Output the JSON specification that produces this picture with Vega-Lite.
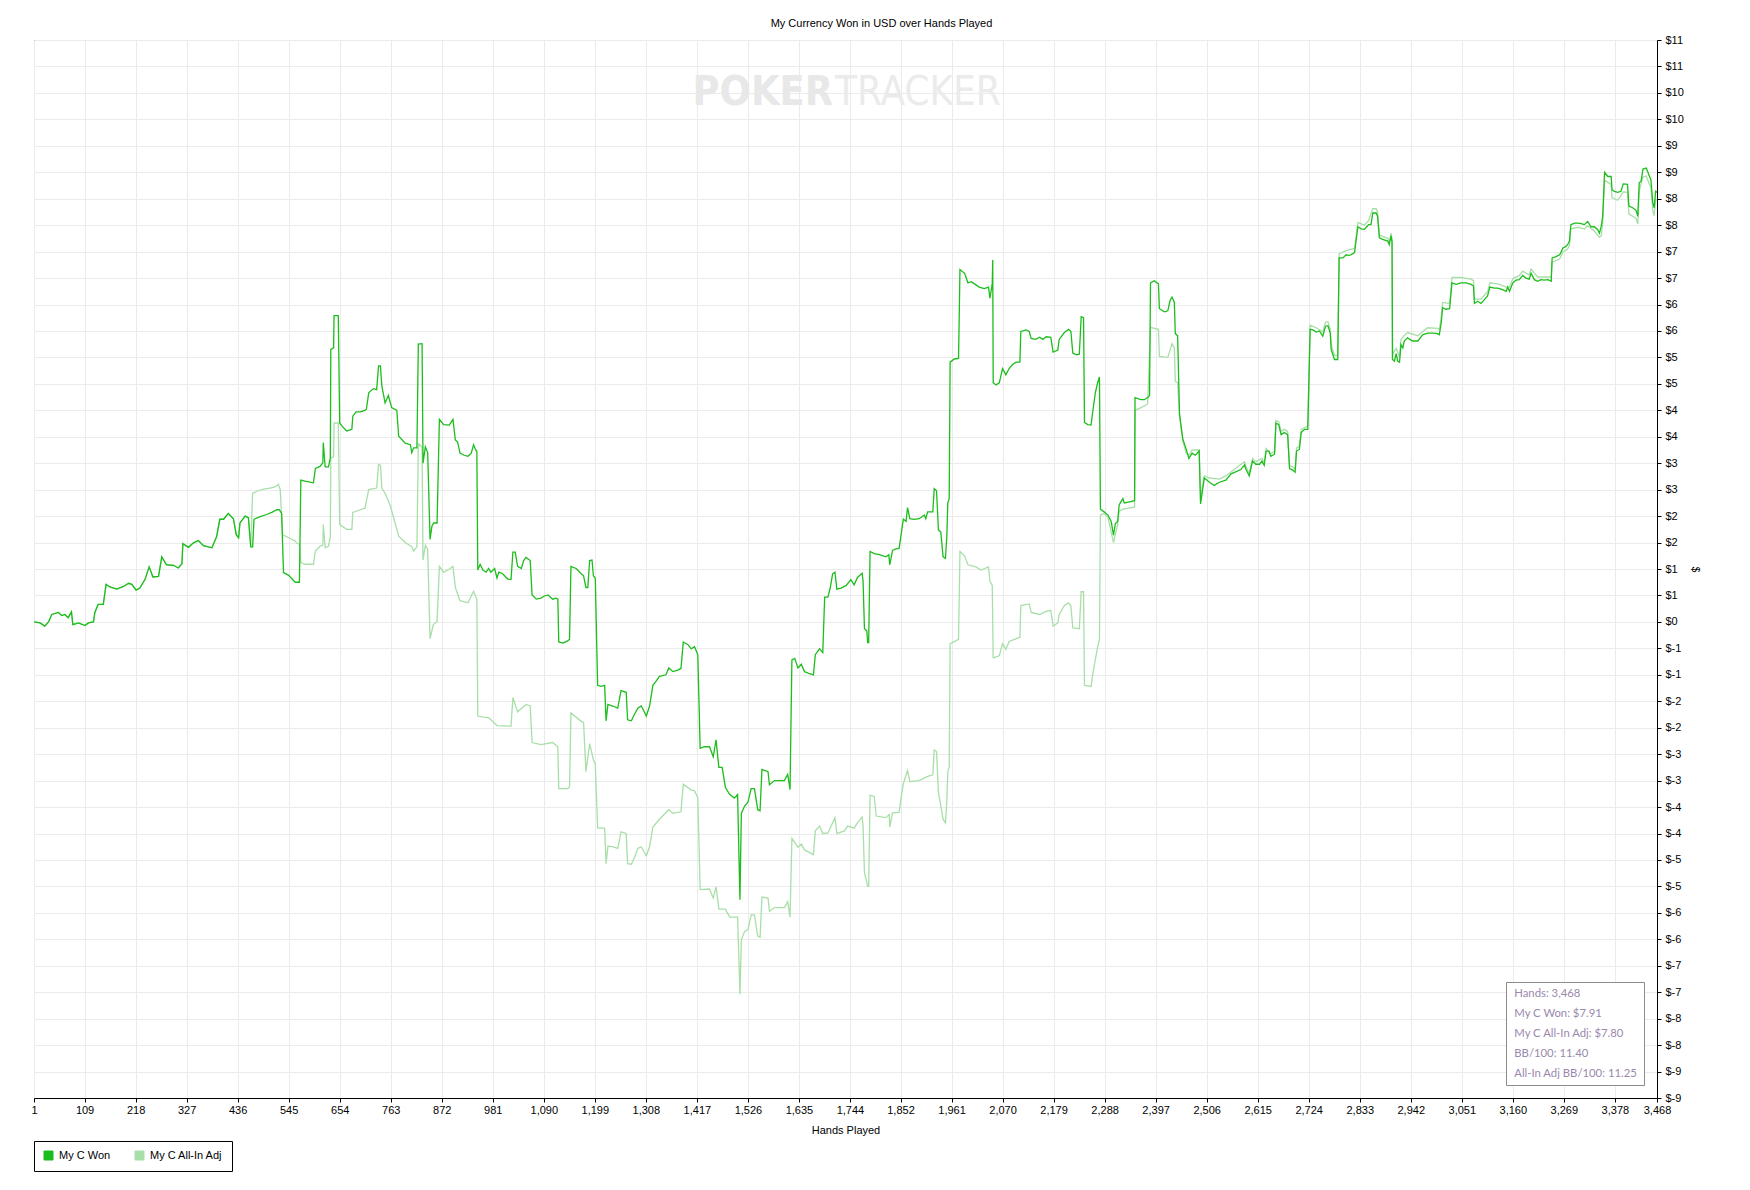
{
  "$schema": "https://vega.github.io/schema/vega-lite/v6.json",
  "width": 1623,
  "height": 1058,
  "autosize": {"type": "none"},
  "padding": {"left": 34, "top": 40, "right": 93, "bottom": 92},
  "background": "white",
  "title": {"text": "My Currency Won in USD over Hands Played", "fontSize": 11, "fontWeight": "normal", "font": "Liberation Sans", "color": "black", "anchor": "middle", "frame": "group", "offset": 5, "dx": 36},
  "datasets": {
    "won": [
      {"h":1,"v":0},{"h":14,"v":-0.02},{"h":24,"v":-0.08},{"h":32,"v":0},{"h":39,"v":0.14},{"h":53,"v":0.18},{"h":60,"v":0.12},{"h":67,"v":0.14},{"h":74,"v":0.08},{"h":81,"v":0.19},{"h":84,"v":-0.05},{"h":96,"v":-0.02},{"h":110,"v":-0.07},{"h":117,"v":-0.02},{"h":128,"v":0},{"h":131,"v":0.18},{"h":138,"v":0.33},{"h":149,"v":0.33},{"h":155,"v":0.71},{"h":163,"v":0.66},{"h":178,"v":0.62},{"h":192,"v":0.67},{"h":203,"v":0.73},{"h":210,"v":0.71},{"h":219,"v":0.6},{"h":227,"v":0.64},{"h":238,"v":0.8},{"h":247,"v":1.04},{"h":255,"v":0.85},{"h":267,"v":0.86},{"h":274,"v":1.23},{"h":284,"v":1.08},{"h":299,"v":1.07},{"h":309,"v":1.02},{"h":317,"v":1.1},{"h":319,"v":1.48},{"h":331,"v":1.41},{"h":341,"v":1.49},{"h":352,"v":1.54},{"h":363,"v":1.44},{"h":381,"v":1.4},{"h":391,"v":1.61},{"h":398,"v":1.94},{"h":406,"v":1.94},{"h":416,"v":2.05},{"h":427,"v":1.95},{"h":433,"v":1.65},{"h":438,"v":1.59},{"h":441,"v":1.87},{"h":452,"v":2.0},{"h":459,"v":1.97},{"h":464,"v":1.42},{"h":468,"v":1.42},{"h":471,"v":1.94},{"h":484,"v":1.99},{"h":498,"v":2.03},{"h":509,"v":2.07},{"h":520,"v":2.12},{"h":525,"v":2.12},{"h":530,"v":2.05},{"h":534,"v":0.93},{"h":545,"v":0.88},{"h":559,"v":0.75},{"h":568,"v":0.75},{"h":571,"v":2.68},{"h":580,"v":2.66},{"h":598,"v":2.63},{"h":602,"v":2.9},{"h":612,"v":2.94},{"h":618,"v":3.01},{"h":619,"v":3.39},{"h":623,"v":2.93},{"h":630,"v":2.93},{"h":634,"v":3.1},{"h":635,"v":5.15},{"h":641,"v":5.18},{"h":642,"v":5.79},{"h":651,"v":5.79},{"h":654,"v":3.76},{"h":659,"v":3.7},{"h":669,"v":3.61},{"h":680,"v":3.64},{"h":682,"v":3.89},{"h":689,"v":3.97},{"h":698,"v":3.97},{"h":708,"v":4.0},{"h":711,"v":4.02},{"h":716,"v":4.33},{"h":726,"v":4.41},{"h":733,"v":4.39},{"h":737,"v":4.84},{"h":741,"v":4.84},{"h":744,"v":4.46},{"h":751,"v":4.14},{"h":758,"v":4.28},{"h":765,"v":4.05},{"h":776,"v":4.0},{"h":780,"v":3.51},{"h":794,"v":3.38},{"h":805,"v":3.35},{"h":808,"v":3.2},{"h":812,"v":3.29},{"h":819,"v":3.29},{"h":822,"v":5.25},{"h":830,"v":5.26},{"h":832,"v":3.0},{"h":837,"v":3.31},{"h":842,"v":3.2},{"h":847,"v":1.56},{"h":851,"v":1.81},{"h":855,"v":1.87},{"h":862,"v":1.87},{"h":867,"v":3.83},{"h":876,"v":3.73},{"h":888,"v":3.72},{"h":896,"v":3.83},{"h":901,"v":3.44},{"h":906,"v":3.4},{"h":911,"v":3.19},{"h":920,"v":3.15},{"h":928,"v":3.13},{"h":935,"v":3.19},{"h":940,"v":3.35},{"h":944,"v":3.26},{"h":947,"v":3.22},{"h":949,"v":0.98},{"h":954,"v":1.09},{"h":960,"v":0.98},{"h":967,"v":0.94},{"h":972,"v":1.01},{"h":977,"v":0.94},{"h":985,"v":1.01},{"h":990,"v":0.83},{"h":994,"v":0.94},{"h":1002,"v":0.91},{"h":1013,"v":0.81},{"h":1020,"v":0.8},{"h":1024,"v":1.32},{"h":1029,"v":1.32},{"h":1034,"v":1.05},{"h":1042,"v":1.01},{"h":1047,"v":1.16},{"h":1052,"v":1.22},{"h":1061,"v":1.16},{"h":1065,"v":0.51},{"h":1074,"v":0.43},{"h":1084,"v":0.45},{"h":1091,"v":0.49},{"h":1099,"v":0.51},{"h":1109,"v":0.43},{"h":1116,"v":0.45},{"h":1120,"v":0.43},{"h":1122,"v":-0.38},{"h":1131,"v":-0.4},{"h":1141,"v":-0.36},{"h":1145,"v":-0.33},{"h":1148,"v":1.05},{"h":1159,"v":1.01},{"h":1170,"v":0.91},{"h":1175,"v":0.87},{"h":1180,"v":0.65},{"h":1184,"v":0.65},{"h":1188,"v":1.16},{"h":1193,"v":1.17},{"h":1196,"v":0.87},{"h":1200,"v":0.83},{"h":1205,"v":-1.2},{"h":1212,"v":-1.22},{"h":1220,"v":-1.2},{"h":1223,"v":-1.87},{"h":1227,"v":-1.56},{"h":1237,"v":-1.59},{"h":1248,"v":-1.63},{"h":1255,"v":-1.3},{"h":1266,"v":-1.33},{"h":1269,"v":-1.85},{"h":1277,"v":-1.87},{"h":1284,"v":-1.74},{"h":1291,"v":-1.63},{"h":1298,"v":-1.59},{"h":1303,"v":-1.67},{"h":1309,"v":-1.78},{"h":1316,"v":-1.59},{"h":1323,"v":-1.2},{"h":1330,"v":-1.12},{"h":1337,"v":-1.03},{"h":1351,"v":-1.0},{"h":1357,"v":-0.87},{"h":1366,"v":-0.94},{"h":1376,"v":-0.91},{"h":1383,"v":-0.88},{"h":1388,"v":-0.38},{"h":1398,"v":-0.43},{"h":1405,"v":-0.51},{"h":1412,"v":-0.47},{"h":1419,"v":-0.62},{"h":1424,"v":-2.39},{"h":1433,"v":-2.36},{"h":1444,"v":-2.36},{"h":1452,"v":-2.55},{"h":1458,"v":-2.23},{"h":1464,"v":-2.75},{"h":1471,"v":-2.75},{"h":1478,"v":-3.13},{"h":1487,"v":-3.26},{"h":1497,"v":-3.33},{"h":1504,"v":-3.26},{"h":1509,"v":-5.25},{"h":1512,"v":-3.62},{"h":1519,"v":-3.48},{"h":1526,"v":-3.41},{"h":1533,"v":-3.15},{"h":1540,"v":-3.15},{"h":1547,"v":-3.55},{"h":1552,"v":-3.57},{"h":1556,"v":-2.79},{"h":1569,"v":-2.83},{"h":1572,"v":-3.08},{"h":1583,"v":-3.0},{"h":1594,"v":-3.0},{"h":1604,"v":-3.0},{"h":1611,"v":-2.88},{"h":1616,"v":-3.17},{"h":1620,"v":-0.72},{"h":1626,"v":-0.69},{"h":1633,"v":-0.87},{"h":1640,"v":-0.8},{"h":1647,"v":-0.94},{"h":1658,"v":-0.98},{"h":1666,"v":-1.0},{"h":1670,"v":-0.62},{"h":1679,"v":-0.51},{"h":1686,"v":-0.58},{"h":1690,"v":0.47},{"h":1697,"v":0.47},{"h":1702,"v":0.65},{"h":1707,"v":0.91},{"h":1712,"v":0.94},{"h":1716,"v":0.62},{"h":1725,"v":0.64},{"h":1736,"v":0.69},{"h":1746,"v":0.8},{"h":1753,"v":0.7},{"h":1760,"v":0.84},{"h":1770,"v":0.92},{"h":1772,"v":0.77},{"h":1775,"v":-0.13},{"h":1780,"v":-0.17},{"h":1782,"v":-0.39},{"h":1784,"v":-0.39},{"h":1787,"v":1.33},{"h":1796,"v":1.29},{"h":1807,"v":1.27},{"h":1821,"v":1.23},{"h":1827,"v":1.27},{"h":1829,"v":1.08},{"h":1835,"v":1.35},{"h":1842,"v":1.38},{"h":1849,"v":1.39},{"h":1853,"v":1.63},{"h":1858,"v":1.94},{"h":1864,"v":1.9},{"h":1867,"v":2.16},{"h":1872,"v":1.95},{"h":1881,"v":1.94},{"h":1892,"v":1.95},{"h":1903,"v":2.02},{"h":1906,"v":1.95},{"h":1910,"v":2.08},{"h":1921,"v":2.08},{"h":1924,"v":2.52},{"h":1929,"v":2.48},{"h":1933,"v":1.74},{"h":1938,"v":1.7},{"h":1943,"v":1.23},{"h":1948,"v":1.2},{"h":1951,"v":1.63},{"h":1953,"v":2.25},{"h":1956,"v":2.33},{"h":1958,"v":4.91},{"h":1967,"v":4.97},{"h":1976,"v":4.98},{"h":1979,"v":6.66},{"h":1989,"v":6.59},{"h":1996,"v":6.41},{"h":2003,"v":6.43},{"h":2010,"v":6.39},{"h":2020,"v":6.33},{"h":2031,"v":6.3},{"h":2040,"v":6.33},{"h":2043,"v":6.12},{"h":2048,"v":6.39},{"h":2049,"v":6.84},{"h":2050,"v":4.52},{"h":2056,"v":4.48},{"h":2063,"v":4.52},{"h":2070,"v":4.79},{"h":2077,"v":4.67},{"h":2084,"v":4.79},{"h":2092,"v":4.87},{"h":2099,"v":4.91},{"h":2107,"v":4.91},{"h":2109,"v":5.49},{"h":2120,"v":5.52},{"h":2127,"v":5.49},{"h":2131,"v":5.36},{"h":2141,"v":5.34},{"h":2149,"v":5.38},{"h":2156,"v":5.34},{"h":2163,"v":5.39},{"h":2173,"v":5.38},{"h":2178,"v":5.1},{"h":2188,"v":5.14},{"h":2191,"v":5.34},{"h":2202,"v":5.47},{"h":2211,"v":5.53},{"h":2216,"v":5.49},{"h":2220,"v":5.08},{"h":2228,"v":5.05},{"h":2234,"v":5.06},{"h":2238,"v":5.77},{"h":2243,"v":5.75},{"h":2245,"v":3.77},{"h":2252,"v":3.73},{"h":2259,"v":3.72},{"h":2262,"v":3.93},{"h":2268,"v":4.32},{"h":2273,"v":4.52},{"h":2277,"v":4.63},{"h":2279,"v":2.13},{"h":2287,"v":2.08},{"h":2295,"v":2.02},{"h":2302,"v":1.9},{"h":2307,"v":1.64},{"h":2311,"v":1.86},{"h":2316,"v":1.9},{"h":2319,"v":2.21},{"h":2327,"v":2.33},{"h":2330,"v":2.25},{"h":2341,"v":2.27},{"h":2352,"v":2.29},{"h":2353,"v":4.24},{"h":2359,"v":4.22},{"h":2366,"v":4.2},{"h":2373,"v":4.2},{"h":2380,"v":4.24},{"h":2384,"v":4.28},{"h":2386,"v":6.41},{"h":2394,"v":6.45},{"h":2403,"v":6.39},{"h":2405,"v":5.92},{"h":2416,"v":5.86},{"h":2423,"v":5.88},{"h":2428,"v":6.08},{"h":2432,"v":6.14},{"h":2437,"v":6.04},{"h":2439,"v":5.45},{"h":2444,"v":5.41},{"h":2448,"v":3.93},{"h":2455,"v":3.46},{"h":2462,"v":3.27},{"h":2468,"v":3.09},{"h":2475,"v":3.19},{"h":2482,"v":3.15},{"h":2490,"v":3.23},{"h":2493,"v":2.23},{"h":2497,"v":2.48},{"h":2501,"v":2.72},{"h":2512,"v":2.64},{"h":2522,"v":2.58},{"h":2533,"v":2.64},{"h":2547,"v":2.68},{"h":2558,"v":2.8},{"h":2569,"v":2.84},{"h":2579,"v":2.88},{"h":2587,"v":2.97},{"h":2590,"v":2.88},{"h":2597,"v":2.76},{"h":2604,"v":3.04},{"h":2611,"v":2.98},{"h":2619,"v":2.98},{"h":2624,"v":3.04},{"h":2629,"v":2.96},{"h":2633,"v":3.23},{"h":2639,"v":3.23},{"h":2643,"v":3.13},{"h":2651,"v":3.17},{"h":2654,"v":3.76},{"h":2660,"v":3.73},{"h":2665,"v":3.54},{"h":2672,"v":3.58},{"h":2679,"v":3.54},{"h":2683,"v":2.9},{"h":2690,"v":2.87},{"h":2695,"v":2.83},{"h":2698,"v":3.23},{"h":2704,"v":3.26},{"h":2708,"v":3.58},{"h":2715,"v":3.64},{"h":2722,"v":3.64},{"h":2727,"v":5.53},{"h":2733,"v":5.52},{"h":2740,"v":5.48},{"h":2747,"v":5.5},{"h":2754,"v":5.4},{"h":2760,"v":5.59},{"h":2765,"v":5.6},{"h":2770,"v":5.46},{"h":2772,"v":5.15},{"h":2779,"v":4.96},{"h":2786,"v":4.96},{"h":2789,"v":6.88},{"h":2797,"v":6.88},{"h":2804,"v":6.94},{"h":2809,"v":6.93},{"h":2814,"v":6.94},{"h":2822,"v":6.98},{"h":2829,"v":7.47},{"h":2836,"v":7.43},{"h":2843,"v":7.42},{"h":2848,"v":7.47},{"h":2852,"v":7.51},{"h":2857,"v":7.51},{"h":2861,"v":7.73},{"h":2868,"v":7.73},{"h":2871,"v":7.67},{"h":2875,"v":7.26},{"h":2882,"v":7.23},{"h":2893,"v":7.2},{"h":2896,"v":7.13},{"h":2900,"v":7.3},{"h":2902,"v":7.18},{"h":2903,"v":4.96},{"h":2907,"v":4.93},{"h":2911,"v":5.07},{"h":2914,"v":4.93},{"h":2918,"v":4.91},{"h":2921,"v":5.24},{"h":2925,"v":5.18},{"h":2928,"v":5.31},{"h":2935,"v":5.37},{"h":2946,"v":5.31},{"h":2957,"v":5.31},{"h":2968,"v":5.43},{"h":2978,"v":5.46},{"h":2989,"v":5.46},{"h":2999,"v":5.45},{"h":3003,"v":5.43},{"h":3007,"v":5.65},{"h":3010,"v":5.94},{"h":3017,"v":5.91},{"h":3025,"v":5.92},{"h":3030,"v":6.41},{"h":3039,"v":6.38},{"h":3049,"v":6.41},{"h":3060,"v":6.41},{"h":3071,"v":6.38},{"h":3076,"v":6.35},{"h":3078,"v":6.02},{"h":3085,"v":6.06},{"h":3092,"v":6.02},{"h":3103,"v":6.13},{"h":3106,"v":6.16},{"h":3111,"v":6.33},{"h":3121,"v":6.31},{"h":3128,"v":6.31},{"h":3138,"v":6.28},{"h":3146,"v":6.25},{"h":3149,"v":6.33},{"h":3153,"v":6.25},{"h":3160,"v":6.41},{"h":3167,"v":6.46},{"h":3174,"v":6.47},{"h":3181,"v":6.55},{"h":3188,"v":6.5},{"h":3195,"v":6.48},{"h":3199,"v":6.59},{"h":3206,"v":6.47},{"h":3213,"v":6.44},{"h":3220,"v":6.47},{"h":3227,"v":6.46},{"h":3235,"v":6.47},{"h":3242,"v":6.44},{"h":3244,"v":6.88},{"h":3251,"v":6.9},{"h":3260,"v":6.94},{"h":3263,"v":6.99},{"h":3267,"v":7.07},{"h":3272,"v":7.09},{"h":3277,"v":7.13},{"h":3281,"v":7.2},{"h":3284,"v":7.51},{"h":3292,"v":7.54},{"h":3299,"v":7.54},{"h":3306,"v":7.53},{"h":3313,"v":7.51},{"h":3320,"v":7.57},{"h":3327,"v":7.47},{"h":3334,"v":7.47},{"h":3341,"v":7.42},{"h":3345,"v":7.35},{"h":3349,"v":7.48},{"h":3352,"v":7.67},{"h":3356,"v":8.5},{"h":3363,"v":8.42},{"h":3370,"v":8.42},{"h":3372,"v":8.17},{"h":3377,"v":8.14},{"h":3384,"v":8.12},{"h":3391,"v":8.14},{"h":3396,"v":8.28},{"h":3405,"v":8.27},{"h":3408,"v":7.86},{"h":3416,"v":7.83},{"h":3423,"v":7.78},{"h":3427,"v":7.67},{"h":3430,"v":8.3},{"h":3434,"v":8.33},{"h":3438,"v":8.56},{"h":3445,"v":8.58},{"h":3449,"v":8.49},{"h":3452,"v":8.42},{"h":3455,"v":8.36},{"h":3459,"v":7.92},{"h":3462,"v":7.83},{"h":3465,"v":8.14},{"h":3468,"v":8.12}
    ],
    "adj": [
      {"h":1,"v":0},{"h":14,"v":-0.02},{"h":24,"v":-0.08},{"h":32,"v":0},{"h":39,"v":0.14},{"h":53,"v":0.18},{"h":60,"v":0.12},{"h":67,"v":0.14},{"h":74,"v":0.08},{"h":81,"v":0.19},{"h":84,"v":-0.05},{"h":96,"v":-0.02},{"h":110,"v":-0.07},{"h":117,"v":-0.02},{"h":128,"v":0},{"h":131,"v":0.18},{"h":138,"v":0.33},{"h":149,"v":0.33},{"h":155,"v":0.71},{"h":163,"v":0.66},{"h":178,"v":0.62},{"h":192,"v":0.67},{"h":203,"v":0.73},{"h":210,"v":0.71},{"h":219,"v":0.6},{"h":227,"v":0.64},{"h":238,"v":0.8},{"h":247,"v":1.04},{"h":255,"v":0.85},{"h":267,"v":0.86},{"h":274,"v":1.23},{"h":284,"v":1.08},{"h":299,"v":1.07},{"h":309,"v":1.02},{"h":317,"v":1.1},{"h":319,"v":1.48},{"h":331,"v":1.41},{"h":341,"v":1.49},{"h":352,"v":1.54},{"h":363,"v":1.44},{"h":381,"v":1.4},{"h":391,"v":1.61},{"h":398,"v":1.94},{"h":406,"v":1.94},{"h":416,"v":2.05},{"h":427,"v":1.95},{"h":433,"v":1.65},{"h":438,"v":1.59},{"h":441,"v":1.87},{"h":452,"v":2.0},{"h":459,"v":1.97},{"h":464,"v":1.42},{"h":468,"v":2.43},{"h":477,"v":2.47},{"h":491,"v":2.51},{"h":505,"v":2.53},{"h":516,"v":2.55},{"h":523,"v":2.6},{"h":527,"v":2.5},{"h":532,"v":1.65},{"h":545,"v":1.59},{"h":559,"v":1.53},{"h":562,"v":1.49},{"h":568,"v":1.47},{"h":571,"v":1.12},{"h":580,"v":1.09},{"h":598,"v":1.09},{"h":602,"v":1.34},{"h":612,"v":1.43},{"h":618,"v":1.45},{"h":619,"v":1.84},{"h":623,"v":1.4},{"h":630,"v":1.43},{"h":634,"v":1.6},{"h":635,"v":3.1},{"h":641,"v":3.12},{"h":642,"v":3.76},{"h":651,"v":3.76},{"h":654,"v":1.84},{"h":669,"v":1.75},{"h":680,"v":1.75},{"h":682,"v":2.07},{"h":698,"v":2.12},{"h":708,"v":2.15},{"h":716,"v":2.5},{"h":733,"v":2.53},{"h":737,"v":2.98},{"h":741,"v":2.96},{"h":744,"v":2.53},{"h":751,"v":2.43},{"h":762,"v":2.2},{"h":780,"v":1.62},{"h":794,"v":1.5},{"h":808,"v":1.42},{"h":812,"v":1.34},{"h":819,"v":1.42},{"h":822,"v":3.37},{"h":830,"v":3.3},{"h":832,"v":1.17},{"h":837,"v":1.45},{"h":842,"v":1.37},{"h":847,"v":-0.32},{"h":854,"v":-0.05},{"h":862,"v":0.01},{"h":867,"v":1.05},{"h":876,"v":0.94},{"h":887,"v":0.99},{"h":896,"v":1.05},{"h":901,"v":0.65},{"h":911,"v":0.4},{"h":928,"v":0.36},{"h":940,"v":0.58},{"h":947,"v":0.43},{"h":949,"v":-1.78},{"h":960,"v":-1.8},{"h":972,"v":-1.81},{"h":990,"v":-1.96},{"h":1020,"v":-1.97},{"h":1024,"v":-1.43},{"h":1034,"v":-1.7},{"h":1052,"v":-1.56},{"h":1061,"v":-1.59},{"h":1065,"v":-2.28},{"h":1084,"v":-2.32},{"h":1109,"v":-2.28},{"h":1120,"v":-2.36},{"h":1122,"v":-3.15},{"h":1141,"v":-3.15},{"h":1145,"v":-3.12},{"h":1148,"v":-1.72},{"h":1170,"v":-1.88},{"h":1175,"v":-1.9},{"h":1180,"v":-2.83},{"h":1188,"v":-2.3},{"h":1196,"v":-2.61},{"h":1200,"v":-2.68},{"h":1205,"v":-3.9},{"h":1220,"v":-3.9},{"h":1223,"v":-4.57},{"h":1227,"v":-4.24},{"h":1237,"v":-4.25},{"h":1248,"v":-4.28},{"h":1255,"v":-3.97},{"h":1266,"v":-4.0},{"h":1269,"v":-4.57},{"h":1277,"v":-4.58},{"h":1284,"v":-4.45},{"h":1291,"v":-4.28},{"h":1298,"v":-4.25},{"h":1309,"v":-4.42},{"h":1316,"v":-4.25},{"h":1323,"v":-3.88},{"h":1337,"v":-3.73},{"h":1357,"v":-3.55},{"h":1366,"v":-3.62},{"h":1383,"v":-3.59},{"h":1388,"v":-3.07},{"h":1405,"v":-3.18},{"h":1412,"v":-3.19},{"h":1419,"v":-3.33},{"h":1424,"v":-5.06},{"h":1444,"v":-5.05},{"h":1452,"v":-5.22},{"h":1458,"v":-5.01},{"h":1464,"v":-5.43},{"h":1478,"v":-5.43},{"h":1487,"v":-5.58},{"h":1504,"v":-5.58},{"h":1509,"v":-7.04},{"h":1512,"v":-6.01},{"h":1519,"v":-5.85},{"h":1526,"v":-5.82},{"h":1533,"v":-5.54},{"h":1540,"v":-5.54},{"h":1547,"v":-5.94},{"h":1552,"v":-5.96},{"h":1556,"v":-5.2},{"h":1569,"v":-5.22},{"h":1572,"v":-5.47},{"h":1583,"v":-5.4},{"h":1604,"v":-5.4},{"h":1611,"v":-5.29},{"h":1616,"v":-5.58},{"h":1620,"v":-4.09},{"h":1633,"v":-4.26},{"h":1640,"v":-4.2},{"h":1647,"v":-4.31},{"h":1666,"v":-4.4},{"h":1670,"v":-3.95},{"h":1679,"v":-3.86},{"h":1686,"v":-4.0},{"h":1697,"v":-3.99},{"h":1712,"v":-3.7},{"h":1716,"v":-4.0},{"h":1732,"v":-3.95},{"h":1739,"v":-3.86},{"h":1753,"v":-3.9},{"h":1760,"v":-3.8},{"h":1770,"v":-3.69},{"h":1772,"v":-3.86},{"h":1775,"v":-4.74},{"h":1782,"v":-5.0},{"h":1784,"v":-5.0},{"h":1787,"v":-3.28},{"h":1796,"v":-3.3},{"h":1800,"v":-3.67},{"h":1821,"v":-3.7},{"h":1828,"v":-3.64},{"h":1829,"v":-3.88},{"h":1835,"v":-3.61},{"h":1849,"v":-3.6},{"h":1853,"v":-3.34},{"h":1858,"v":-3.06},{"h":1867,"v":-2.81},{"h":1872,"v":-3.02},{"h":1892,"v":-3.0},{"h":1910,"v":-2.92},{"h":1921,"v":-2.89},{"h":1924,"v":-2.42},{"h":1929,"v":-2.45},{"h":1933,"v":-3.22},{"h":1943,"v":-3.73},{"h":1948,"v":-3.8},{"h":1951,"v":-3.38},{"h":1953,"v":-2.83},{"h":1956,"v":-2.75},{"h":1958,"v":-0.41},{"h":1976,"v":-0.33},{"h":1979,"v":1.33},{"h":1989,"v":1.25},{"h":1996,"v":1.08},{"h":2013,"v":1.04},{"h":2024,"v":0.98},{"h":2040,"v":1.04},{"h":2043,"v":0.77},{"h":2048,"v":0.69},{"h":2050,"v":-0.68},{"h":2063,"v":-0.64},{"h":2070,"v":-0.41},{"h":2077,"v":-0.52},{"h":2084,"v":-0.37},{"h":2107,"v":-0.29},{"h":2109,"v":0.31},{"h":2127,"v":0.34},{"h":2131,"v":0.18},{"h":2149,"v":0.14},{"h":2163,"v":0.2},{"h":2173,"v":0.22},{"h":2178,"v":-0.08},{"h":2188,"v":-0.02},{"h":2191,"v":0.14},{"h":2202,"v":0.31},{"h":2211,"v":0.36},{"h":2216,"v":0.3},{"h":2220,"v":-0.11},{"h":2234,"v":-0.13},{"h":2238,"v":0.57},{"h":2243,"v":0.57},{"h":2245,"v":-1.2},{"h":2259,"v":-1.22},{"h":2262,"v":-1.03},{"h":2268,"v":-0.72},{"h":2273,"v":-0.48},{"h":2277,"v":-0.33},{"h":2279,"v":2.02},{"h":2287,"v":2.05},{"h":2295,"v":1.98},{"h":2307,"v":1.5},{"h":2316,"v":1.85},{"h":2319,"v":2.09},{"h":2327,"v":2.13},{"h":2352,"v":2.17},{"h":2353,"v":4.0},{"h":2366,"v":4.05},{"h":2380,"v":4.12},{"h":2386,"v":5.57},{"h":2403,"v":5.53},{"h":2405,"v":5.02},{"h":2423,"v":5.0},{"h":2432,"v":5.26},{"h":2437,"v":5.18},{"h":2439,"v":4.55},{"h":2444,"v":4.52},{"h":2448,"v":3.9},{"h":2455,"v":3.42},{"h":2462,"v":3.2},{"h":2468,"v":3.15},{"h":2475,"v":3.25},{"h":2490,"v":3.25},{"h":2493,"v":2.3},{"h":2497,"v":2.57},{"h":2501,"v":2.76},{"h":2512,"v":2.72},{"h":2533,"v":2.7},{"h":2547,"v":2.76},{"h":2569,"v":2.91},{"h":2587,"v":3.03},{"h":2590,"v":2.93},{"h":2597,"v":2.81},{"h":2604,"v":3.09},{"h":2611,"v":3.03},{"h":2624,"v":3.09},{"h":2629,"v":3.01},{"h":2633,"v":3.28},{"h":2643,"v":3.18},{"h":2651,"v":3.22},{"h":2654,"v":3.81},{"h":2660,"v":3.78},{"h":2665,"v":3.6},{"h":2672,"v":3.64},{"h":2679,"v":3.6},{"h":2683,"v":2.96},{"h":2690,"v":2.93},{"h":2695,"v":2.89},{"h":2698,"v":3.29},{"h":2704,"v":3.32},{"h":2708,"v":3.64},{"h":2722,"v":3.7},{"h":2727,"v":5.61},{"h":2740,"v":5.56},{"h":2754,"v":5.48},{"h":2760,"v":5.67},{"h":2765,"v":5.68},{"h":2770,"v":5.54},{"h":2772,"v":5.23},{"h":2779,"v":5.04},{"h":2786,"v":5.04},{"h":2789,"v":6.96},{"h":2804,"v":7.02},{"h":2822,"v":7.06},{"h":2829,"v":7.55},{"h":2843,"v":7.5},{"h":2852,"v":7.59},{"h":2861,"v":7.81},{"h":2868,"v":7.81},{"h":2871,"v":7.75},{"h":2875,"v":7.31},{"h":2893,"v":7.25},{"h":2896,"v":7.18},{"h":2900,"v":7.35},{"h":2902,"v":7.23},{"h":2903,"v":5.06},{"h":2911,"v":5.17},{"h":2918,"v":5.01},{"h":2921,"v":5.34},{"h":2928,"v":5.41},{"h":2935,"v":5.47},{"h":2957,"v":5.41},{"h":2978,"v":5.56},{"h":2999,"v":5.55},{"h":3003,"v":5.53},{"h":3007,"v":5.75},{"h":3010,"v":6.04},{"h":3025,"v":6.02},{"h":3030,"v":6.51},{"h":3049,"v":6.51},{"h":3071,"v":6.48},{"h":3076,"v":6.45},{"h":3078,"v":6.1},{"h":3092,"v":6.1},{"h":3106,"v":6.24},{"h":3111,"v":6.41},{"h":3128,"v":6.39},{"h":3146,"v":6.33},{"h":3153,"v":6.33},{"h":3160,"v":6.49},{"h":3174,"v":6.55},{"h":3181,"v":6.63},{"h":3195,"v":6.56},{"h":3199,"v":6.67},{"h":3213,"v":6.52},{"h":3242,"v":6.52},{"h":3244,"v":6.8},{"h":3260,"v":6.86},{"h":3267,"v":6.99},{"h":3277,"v":7.05},{"h":3281,"v":7.12},{"h":3284,"v":7.43},{"h":3299,"v":7.46},{"h":3313,"v":7.43},{"h":3320,"v":7.49},{"h":3334,"v":7.39},{"h":3345,"v":7.27},{"h":3349,"v":7.3},{"h":3352,"v":7.55},{"h":3356,"v":8.35},{"h":3370,"v":8.27},{"h":3372,"v":8.02},{"h":3384,"v":7.97},{"h":3396,"v":8.13},{"h":3405,"v":8.12},{"h":3408,"v":7.71},{"h":3423,"v":7.63},{"h":3427,"v":7.52},{"h":3430,"v":8.15},{"h":3438,"v":8.41},{"h":3445,"v":8.43},{"h":3452,"v":8.27},{"h":3455,"v":8.21},{"h":3459,"v":7.77},{"h":3462,"v":7.68},{"h":3465,"v":7.99},{"h":3468,"v":7.97}
    ],
    "stats": [
      {"stat": "Hands: 3,468"},
      {"stat": "My C Won: $7.91"},
      {"stat": "My C All-In Adj: $7.80"},
      {"stat": "BB/100: 11.40"},
      {"stat": "All-In Adj BB/100: 11.25"}
    ]
  },
  "layer": [
    {
      "data": {"name": "adj"},
      "mark": {"type": "line", "strokeWidth": 1.3, "interpolate": "linear"},
      "encoding": {
        "x": {
          "field": "h", "type": "quantitative",
          "scale": {"domain": [1, 3468], "nice": false, "zero": false},
          "axis": {
            "title": "Hands Played",
            "values": [1,109,218,327,436,545,654,763,872,981,1090,1199,1308,1417,1526,1635,1744,1852,1961,2070,2179,2288,2397,2506,2615,2724,2833,2942,3051,3160,3269,3378,3468],
            "tickCount": 60,
            "format": ",d",
            "labelFlush": false,
            "labelOverlap": false,
            "tickSize": 4,
            "labelPadding": 2,
            "titlePadding": 9
          }
        },
        "y": {
          "field": "v", "type": "quantitative",
          "scale": {"domain": [-9, 11], "nice": false, "zero": false},
          "axis": {
            "orient": "right",
            "title": "$",
            "values": [-9,-8.5,-8,-7.5,-7,-6.5,-6,-5.5,-5,-4.5,-4,-3.5,-3,-2.5,-2,-1.5,-1,-0.5,0,0.5,1,1.5,2,2.5,3,3.5,4,4.5,5,5.5,6,6.5,7,7.5,8,8.5,9,9.5,10,10.5,11],
            "tickCount": 60,
            "labelExpr": "'$' + (datum.value < 0 ? '-' : '') + round(abs(datum.value))",
            "labelOverlap": false,
            "tickSize": 4,
            "labelPadding": 4,
            "titlePadding": 6,
            "titleFontSize": 10
          }
        },
        "color": {
          "datum": "My C All-In Adj",
          "type": "nominal",
          "scale": {"domain": ["My C Won", "My C All-In Adj"], "range": ["#1cbd1c", "#a8dfa8"]},
          "legend": {
            "title": null,
            "orient": "bottom",
            "direction": "horizontal",
            "offset": 6,
            "symbolType": "square",
            "symbolSize": 81,
            "symbolStrokeWidth": 1,
            "labelFontSize": 11,
            "labelFont": "Liberation Sans",
            "labelColor": "black",
            "labelOffset": 5,
            "columnPadding": 22,
            "padding": 9,
            "strokeColor": "black",
            "fillColor": "white",
            "encode": {
              "symbols": {
                "update": {
                  "fill": {"scale": "color", "field": "value"},
                  "stroke": {"value": "black"},
                  "strokeWidth": {"value": 1},
                  "opacity": {"value": 1}
                }
              }
            }
          }
        }
      }
    },
    {
      "data": {"name": "won"},
      "mark": {"type": "line", "strokeWidth": 1.3, "interpolate": "linear"},
      "encoding": {
        "x": {"field": "h", "type": "quantitative"},
        "y": {"field": "v", "type": "quantitative"},
        "color": {"datum": "My C Won", "type": "nominal"}
      }
    },
    {
      "mark": {"type": "rule", "color": "black", "strokeWidth": 1},
      "encoding": {"y": {"datum": 0}}
    },
    {
      "data": {"values": [{"t": "POKER"}]},
      "mark": {"type": "text", "font": "DejaVu Sans Condensed, Liberation Sans", "fontWeight": "bold", "fontSize": 41, "color": "#e8e8e8", "align": "right", "baseline": "alphabetic"},
      "encoding": {"x": {"datum": 1708}, "y": {"datum": 9.77}, "text": {"field": "t"}}
    },
    {
      "data": {"values": [{"t": "TRACKER"}]},
      "mark": {"type": "text", "font": "DejaVu Sans Condensed, Liberation Sans", "fontWeight": "normal", "fontSize": 40, "color": "#ebebeb", "align": "left", "baseline": "alphabetic", "dx": 2},
      "encoding": {"x": {"datum": 1708}, "y": {"datum": 9.77}, "text": {"field": "t"}}
    },
    {
      "data": {"name": "stats"},
      "mark": {"type": "point", "opacity": 0},
      "encoding": {
        "shape": {
          "field": "stat", "type": "nominal",
          "scale": {"domain": ["Hands: 3,468", "My C Won: $7.91", "My C All-In Adj: $7.80", "BB/100: 11.40", "All-In Adj BB/100: 11.25"]},
          "legend": {
            "title": null,
            "orient": "bottom-right",
            "offset": 13,
            "symbolSize": 0.01,
            "symbolOpacity": 0,
            "symbolStrokeWidth": 0,
            "labelOffset": -9,
            "labelColor": "#9a88ac",
            "labelFont": "Lato",
            "labelFontSize": 11.3,
            "labelLimit": 300,
            "rowPadding": 8,
            "padding": 6,
            "strokeColor": "#8c8c8c",
            "fillColor": "white"
          }
        }
      }
    }
  ],
  "config": {
    "font": "Liberation Sans",
    "view": {"stroke": "black", "strokeWidth": 1},
    "axis": {
      "gridColor": "#ebebeb",
      "gridWidth": 1,
      "domainColor": "black",
      "domainWidth": 1,
      "tickColor": "black",
      "labelColor": "black",
      "labelFont": "Liberation Sans",
      "labelFontSize": 11,
      "titleFont": "Liberation Sans",
      "titleFontSize": 11,
      "titleFontWeight": "normal",
      "titleColor": "black"
    }
  }
}
